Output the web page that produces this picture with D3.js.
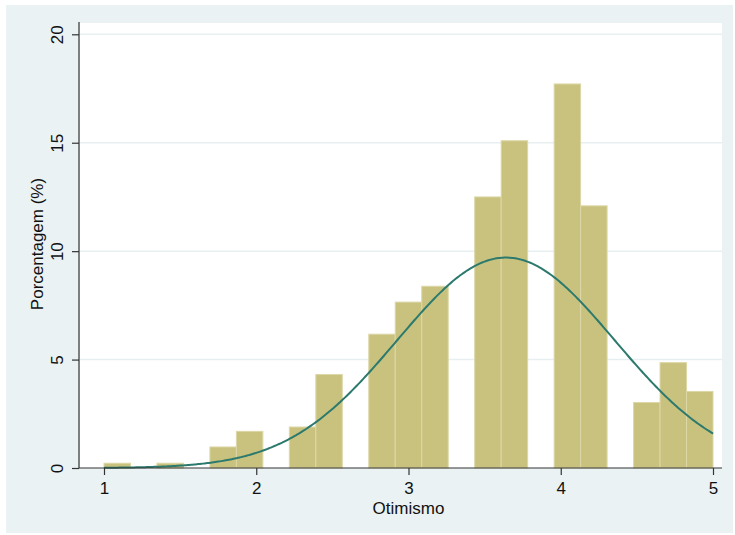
<!DOCTYPE html>
<html>
<head>
<meta charset="utf-8">
<script src="https://cdn.jsdelivr.net/npm/d3@7"></script>
<style>
  html, body { margin: 0; padding: 0; background: #ffffff; }
  svg { display: block; font-family: "Liberation Sans", Arial, Helvetica, sans-serif; }
</style>
</head>
<body>
<svg id="chart" width="735" height="535"></svg>
<script>
// Histogram of Otimismo scores: 23 equal bins spanning 1 to 5
const binStart = 1;
const binEnd = 5;
const binCount = 23;
// Percentage of respondents in each bin (left to right)
const binPercents = [
  0.22, 0, 0.22, 0, 0.97, 1.69, 0, 1.89, 4.31, 0, 6.17, 7.65,
  8.38, 0, 12.5, 15.09, 0, 17.71, 12.09, 0, 3.02, 4.86, 3.53
];
// Fitted normal curve parameters
const normalMean = 3.64;
const normalSd = 0.715;

const xTicks = [1, 2, 3, 4, 5];
const yTicks = [0, 5, 10, 15, 20];
const xTitle = "Otimismo";
const yTitle = "Porcentagem (%)";

const svg = d3.select("#chart");
const plot = { left: 80, right: 722, top: 23, bottom: 468 };
const fontSize = 17;

// Outer graph region and inner plot region
svg.append("rect").attr("x", 6).attr("y", 5).attr("width", 727).attr("height", 528)
  .attr("fill", "#eaf2f3");
svg.append("rect").attr("x", plot.left).attr("y", plot.top)
  .attr("width", plot.right - plot.left).attr("height", plot.bottom - plot.top)
  .attr("fill", "#ffffff");

const x = d3.scaleLinear().domain([1, 5]).range([104, 713]);
const y = d3.scaleLinear().domain([0, 20]).range([468, 34.3]);

// Horizontal gridlines
svg.append("g").selectAll("line").data(yTicks.filter(d => d > 0)).join("line")
  .attr("x1", plot.left).attr("x2", plot.right)
  .attr("y1", d => y(d)).attr("y2", d => y(d))
  .attr("stroke", "#e7eff1").attr("stroke-width", 1.5);

// Bars
const binWidth = (binEnd - binStart) / binCount;
const bins = binPercents.map((v, i) => ({ x0: binStart + i * binWidth, x1: binStart + (i + 1) * binWidth, v }));
svg.append("g").selectAll("rect").data(bins.filter(d => d.v > 0)).join("rect")
  .attr("x", d => x(d.x0))
  .attr("width", d => x(d.x1) - x(d.x0))
  .attr("y", d => y(d.v))
  .attr("height", d => y(0) - y(d.v))
  .attr("fill", "#c9c27f")
  .attr("stroke", "#dcd7a6")
  .attr("stroke-width", 1);

// Normal density scaled to percent per bin
const normalPct = t => 100 * binWidth * Math.exp(-0.5 * ((t - normalMean) / normalSd) ** 2) / (normalSd * Math.sqrt(2 * Math.PI));
const curveX = d3.range(0, 401).map(i => binStart + (binEnd - binStart) * i / 400);
svg.append("path")
  .datum(curveX)
  .attr("fill", "none")
  .attr("stroke", "#2c7a6d")
  .attr("stroke-width", 2)
  .attr("d", d3.line().x(d => x(d)).y(d => y(normalPct(d))));

// Axes
const yAxis = svg.append("g").attr("transform", `translate(${plot.left - 1},0)`)
  .call(d3.axisLeft(y).tickValues(yTicks).tickSize(7).tickPadding(0).tickFormat(d3.format("d")));
yAxis.select(".domain").attr("d", `M0,${plot.top - 1}V${plot.bottom}`).attr("stroke", "#333").attr("stroke-width", 1.2);
yAxis.selectAll(".tick line").attr("stroke", "#333").attr("stroke-width", 1.2);
yAxis.selectAll(".tick text")
  .attr("font-size", fontSize).attr("fill", "#111")
  .attr("text-anchor", "middle")
  .attr("x", 0).attr("dy", 0)
  .attr("transform", "translate(-16,0) rotate(-90)");

const xAxis = svg.append("g").attr("transform", `translate(0,${plot.bottom})`)
  .call(d3.axisBottom(x).tickValues(xTicks).tickSize(7).tickPadding(7).tickFormat(d3.format("d")));
xAxis.select(".domain").attr("d", `M${plot.left - 1},0H${plot.right}`).attr("stroke", "#333").attr("stroke-width", 1.2);
xAxis.selectAll(".tick line").attr("stroke", "#333").attr("stroke-width", 1.2);
xAxis.selectAll(".tick text").attr("font-size", fontSize).attr("fill", "#111");

// Axis titles
svg.append("text").attr("x", x(3)).attr("y", 514)
  .attr("text-anchor", "middle").attr("font-size", fontSize).attr("fill", "#111").text(xTitle);
svg.append("text")
  .attr("transform", `translate(43,244) rotate(-90)`)
  .attr("text-anchor", "middle").attr("font-size", fontSize).attr("fill", "#111").text(yTitle);
</script>
</body>
</html>
